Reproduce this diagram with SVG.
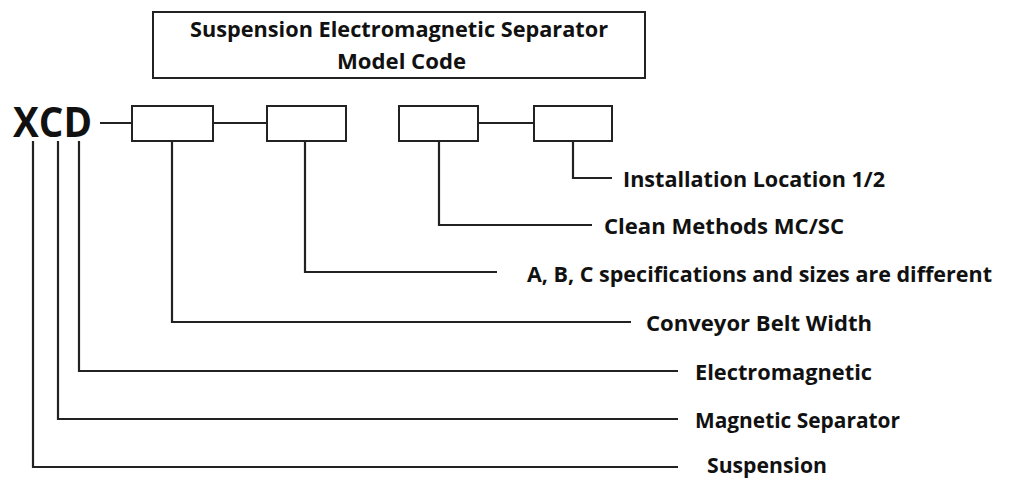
<svg xmlns="http://www.w3.org/2000/svg" width="1018" height="479" viewBox="0 0 1018 479">
<style>
.box{fill:#fff;stroke:#222;stroke-width:2}
.ln{fill:none;stroke:#222;stroke-width:2.2}
.lbl{font-family:"Open Sans","Liberation Sans",sans-serif;font-weight:bold;font-size:21px;fill:#111}
.xcd{font-family:"Open Sans","Liberation Sans",sans-serif;font-weight:bold;font-size:41px;fill:#111}
</style>
<rect width="1018" height="479" fill="#fff"/>
<g id="title">
<rect class="box" x="153" y="12" width="492" height="66"/>
<text class="lbl" x="190" y="37" textLength="418" lengthAdjust="spacingAndGlyphs">Suspension Electromagnetic Separator</text>
<text class="lbl" x="337" y="69" textLength="129" lengthAdjust="spacingAndGlyphs">Model Code</text>
</g>
<g id="xcd"><text class="xcd" x="13" y="137" textLength="79" lengthAdjust="spacingAndGlyphs">XCD</text></g>
<g id="box1"><rect class="box" x="132" y="106" width="81" height="35"/></g>
<g id="box2"><rect class="box" x="267" y="106" width="79" height="35"/></g>
<g id="box3"><rect class="box" x="399" y="106" width="79" height="35"/></g>
<g id="box4"><rect class="box" x="534" y="106" width="78" height="35"/></g>
<g id="connectors">
<path class="ln" d="M100 123H132M213 123H267M478 123H534"/>
<path class="ln" d="M573 141V178H612"/>
<path class="ln" d="M439 141V225H592"/>
<path class="ln" d="M305 141V272H497"/>
<path class="ln" d="M172 141V322H631"/>
<path class="ln" d="M79 141V371H678"/>
<path class="ln" d="M58 141V419H678"/>
<path class="ln" d="M33 141V467H678"/>
</g>
<g id="labels">
<text class="lbl" x="623" y="187" textLength="262" lengthAdjust="spacingAndGlyphs">Installation Location 1/2</text>
<text class="lbl" x="604" y="234" textLength="240" lengthAdjust="spacingAndGlyphs">Clean Methods MC/SC</text>
<text class="lbl" x="527" y="282" textLength="465" lengthAdjust="spacingAndGlyphs">A, B, C specifications and sizes are different</text>
<text class="lbl" x="646" y="331" textLength="226" lengthAdjust="spacingAndGlyphs">Conveyor Belt Width</text>
<text class="lbl" x="695" y="380" textLength="177" lengthAdjust="spacingAndGlyphs">Electromagnetic</text>
<text class="lbl" x="695" y="428" textLength="205" lengthAdjust="spacingAndGlyphs">Magnetic Separator</text>
<text class="lbl" x="707" y="473" textLength="120" lengthAdjust="spacingAndGlyphs">Suspension</text>
</g>
</svg>
